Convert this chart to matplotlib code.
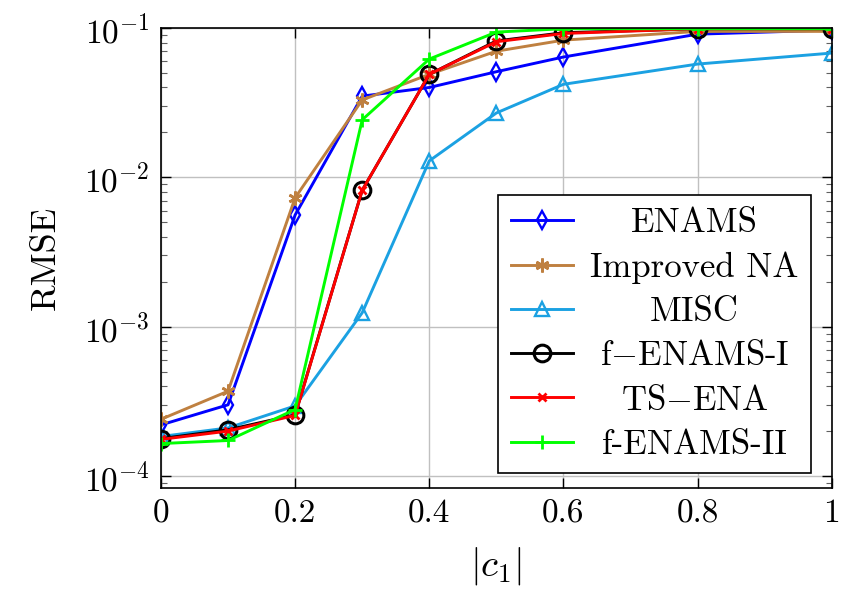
import matplotlib
matplotlib.use("Agg")
import matplotlib.pyplot as plt
import numpy as np

plt.rcParams['font.family'] = 'serif'
plt.rcParams['font.serif'] = ['cmr10']
plt.rcParams['mathtext.fontset'] = 'cm'
plt.rcParams['axes.formatter.use_mathtext'] = True

# data
c1 = [0, 0.1, 0.2, 0.3, 0.4, 0.5, 0.6, 0.8, 1.0]
enams = [2.2e-4, 3.0e-4, 5.6e-3, 0.035, 0.040, 0.051, 0.064, 0.091, 0.097]
improved_na = [2.4e-4, 3.7e-4, 7.3e-3, 0.033, 0.049, 0.070, 0.083, 0.095, 0.095]
misc = [1.84e-4, 2.1e-4, 2.95e-4, 1.24e-3, 0.0129, 0.027, 0.042, 0.0574, 0.068]
f_enams_1 = [1.78e-4, 2.04e-4, 2.57e-4, 8.2e-3, 0.049, 0.082, 0.093, 0.099, 0.099]
ts_ena = [1.76e-4, 2.0e-4, 2.55e-4, 8.2e-3, 0.049, 0.081, 0.092, 0.099, 0.099]
f_enams_2 = [1.65e-4, 1.73e-4, 2.79e-4, 0.0243, 0.062, 0.094, 0.099, 0.099, 0.099]

fig = plt.figure(figsize=(8.41, 5.97), dpi=100)
ax = fig.add_axes([0.1914, 0.1826, 0.7976, 0.7704])

lw = 2.1
ax.plot(c1, enams, color='#0000ff', lw=lw, marker='d', ms=9, mfc='none', mew=1.7, label='ENAMS')
ax.plot(c1, improved_na, color='#bf8040', lw=lw, marker=(6, 2, 0), ms=10, mew=1.9, label='Improved NA')
ax.plot(c1, misc, color='#1ba1e2', lw=lw, marker='^', ms=10, mfc='none', mew=1.7, label='MISC')
ax.plot(c1, f_enams_1, color='black', lw=lw, marker='o', ms=12, mfc='none', mew=2.2, label=r'f$-$ENAMS-I')
ax.plot(c1, ts_ena, color='#ff0000', lw=lw, marker='x', ms=6, mew=2, label=r'TS$-$ENA')
ax.plot(c1, f_enams_2, color='#00ff00', lw=lw, marker='+', ms=10, mew=2, label='f-ENAMS-II')

ax.set_yscale('log')
ax.set_xlim(0, 1)
ax.set_ylim(10**-4.08, 0.1)
ax.set_xticks([0, 0.2, 0.4, 0.6, 0.8, 1])
ax.set_xticklabels(['0', '0.2', '0.4', '0.6', '0.8', '1'])
ax.set_yticks([1e-4, 1e-3, 1e-2, 1e-1])
ax.grid(True, which='major', color='#c0c0c0', lw=1)
ax.tick_params(which='both', direction='in', top=True, right=True, labelsize=24)
ax.tick_params(which='major', length=7, width=1, pad=8)
ax.tick_params(which='minor', length=4, width=0.8, color='#606060')
ax.tick_params(axis='x', which='minor', top=False, bottom=False)
for s in ax.spines.values():
    s.set_linewidth(1.2)

ax.set_xlabel(r'$|c_1|$', fontsize=28, labelpad=12)
ax.set_ylabel('RMSE', fontsize=26, labelpad=16)

leg = ax.legend(loc='lower right', bbox_to_anchor=(0.969, 0.033), fontsize=25,
                fancybox=False, edgecolor='black', framealpha=1,
                handlelength=1.8, handletextpad=0.5, borderpad=0.35,
                labelspacing=0.36, borderaxespad=0)
leg.get_frame().set_linewidth(1.2)

# centre the legend labels like pgfplots does
fig.canvas.draw()
r = fig.canvas.get_renderer()
widths = [t.get_window_extent(r).width for t in leg.get_texts()]
wmax = max(widths)
for t, w in zip(leg.get_texts(), widths):
    t.set_position(((wmax - w) / 2, 0))

fig.savefig('out.png', dpi=100)
